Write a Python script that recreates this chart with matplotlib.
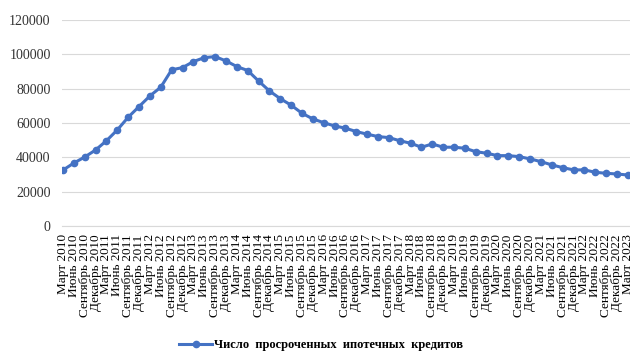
import matplotlib
matplotlib.use("Agg")
import matplotlib.pyplot as plt

# ==============================
#  DATA
# ==============================
months = ["Март", "Июнь", "Сентябрь", "Декабрь"]
years = list(range(2010, 2024))
labels = [f"{m} {y}" for y in years for m in months][:53]

overdue = [32600, 36700, 40200, 44300, 49700, 56000, 63400, 69600, 75800, 80900,
           91000, 92300, 95800, 98100, 98700, 96200, 92900, 90600, 84500, 78700,
           74200, 70400, 65700, 62400, 60200, 58300, 57000, 55000, 53500, 52100,
           51500, 49700, 48200, 45900, 47800, 45900, 45900, 45300, 43300, 42400,
           41000, 41000, 40400, 39100, 37500, 35600, 34000, 32700, 32700, 31300,
           30700, 30300, 29700]

series_name = "Число  просроченных  ипотечных  кредитов"

# ==============================
#  PLOT
# ==============================
plt.rcParams["font.family"] = ["Liberation Serif", "DejaVu Serif"]

fig = plt.figure(figsize=(6.3, 3.52), dpi=100)
ax = fig.add_axes([0.098, 0.358, 0.902, 0.585])

x = list(range(len(overdue)))
ax.plot(x, overdue, color="#4472C4", linewidth=2.2, marker="o", markersize=4.5,
        label=series_name)

ax.set_ylim(0, 120000)
ax.set_yticks(range(0, 120001, 20000))
ax.set_xlim(-0.12, 52.2)
ax.set_xticks(x)
ax.set_xticklabels(labels, rotation=90, fontsize=9.5)

ax.grid(axis="y", color="#D9D9D9", linewidth=0.8)
ax.set_axisbelow(True)
for side in ["top", "right", "left"]:
    ax.spines[side].set_visible(False)
ax.spines["bottom"].set_color("#D9D9D9")
ax.tick_params(axis="both", length=0, colors="#333333")
ax.tick_params(axis="x", pad=6, labelcolor="black")
ax.tick_params(axis="y", pad=8, labelsize=10)

fig.legend(loc="center", bbox_to_anchor=(0.51, 0.02), frameon=False,
           prop={"weight": "bold", "size": 9}, handlelength=2.6, handletextpad=0.2)

plt.savefig("out.png", dpi=100)
